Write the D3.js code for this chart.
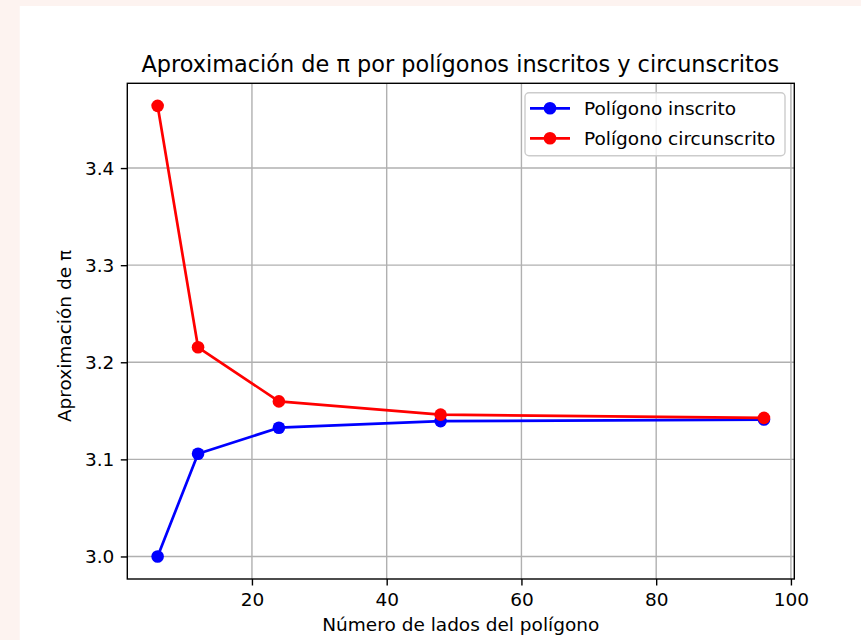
<!DOCTYPE html>
<html>
<head>
<meta charset="utf-8">
<script src="https://cdn.jsdelivr.net/npm/d3@7"></script>
<style>
  html, body { margin: 0; padding: 0; background: #fdf3f0; }
  svg { display: block; }
  text { font-family: "DejaVu Sans", sans-serif; fill: #000; }
</style>
</head>
<body>
<svg id="chart" width="861" height="640"></svg>
<script>
const lados = [6, 12, 24, 48, 96];
const inscrito = [3.0000, 3.1058, 3.1326, 3.1394, 3.1410];
const circunscrito = [3.4641, 3.2154, 3.1597, 3.1461, 3.1427];
const xTicks = [20, 40, 60, 80, 100];
const yTicks = [3.0, 3.1, 3.2, 3.3, 3.4];
const seriesNames = ["Polígono inscrito", "Polígono circunscrito"];
const seriesColors = ["#0000ff", "#ff0000"];

const svg = d3.select("#chart");
// figure background
svg.append("rect").attr("x", 19.7).attr("y", 6).attr("width", 861).attr("height", 650).attr("fill", "#fff");

const L = 127.3, R = 794.3, T = 83.3, B = 579;
const allY = inscrito.concat(circunscrito);
const xmin = d3.min(lados), xmax = d3.max(lados);
const ymin = d3.min(allY), ymax = d3.max(allY);
const xm = (xmax - xmin) * 0.05, ym = (ymax - ymin) * 0.05;
const x = d3.scaleLinear().domain([xmin - xm, xmax + xm]).range([L, R]);
const y = d3.scaleLinear().domain([ymin - ym, ymax + ym]).range([B, T]);

const fs = 18.5;
// grid
const grid = svg.append("g");
xTicks.forEach(t => grid.append("line").attr("x1", x(t)).attr("x2", x(t)).attr("y1", T).attr("y2", B)
  .attr("stroke", "#b0b0b0").attr("stroke-width", 1.4));
yTicks.forEach(t => grid.append("line").attr("x1", L).attr("x2", R).attr("y1", y(t)).attr("y2", y(t))
  .attr("stroke", "#b0b0b0").attr("stroke-width", 1.4));

// axes
const xAxis = d3.axisBottom(x).tickValues(xTicks).tickFormat(d3.format("d")).tickSize(6.5).tickPadding(6.5);
const yAxis = d3.axisLeft(y).tickValues(yTicks).tickFormat(d3.format(".1f")).tickSize(6.5).tickPadding(6.5);
const gx = svg.append("g").attr("transform", `translate(0,${B})`).call(xAxis);
const gy = svg.append("g").attr("transform", `translate(${L},0)`).call(yAxis);
[gx, gy].forEach(g => {
  g.select(".domain").remove();
  g.selectAll(".tick line").attr("stroke", "#000").attr("stroke-width", 1.4);
  g.selectAll(".tick text").attr("font-family", "DejaVu Sans").attr("font-size", fs).attr("fill", "#000");
});
gx.selectAll(".tick text").attr("dy", null).attr("y", 27);
gy.selectAll(".tick text").attr("dy", "0.35em");

// frame
svg.append("rect").attr("x", L).attr("y", T).attr("width", R - L).attr("height", B - T)
  .attr("fill", "none").attr("stroke", "#000").attr("stroke-width", 1.4);

// series
const series = [inscrito, circunscrito];
const line = d3.line().x((d, i) => x(lados[i])).y(d => y(d));
series.forEach((vals, k) => {
  const g = svg.append("g");
  g.append("path").datum(vals).attr("d", line).attr("fill", "none")
    .attr("stroke", seriesColors[k]).attr("stroke-width", 2.7).attr("stroke-linejoin", "round");
  g.selectAll("circle").data(vals).join("circle")
    .attr("cx", (d, i) => x(lados[i])).attr("cy", d => y(d)).attr("r", 6.3)
    .attr("fill", seriesColors[k]);
});

// title and labels
svg.append("text").attr("x", (L + R) / 2 - 0.5).attr("y", 72).attr("text-anchor", "middle")
  .attr("font-size", 22.4).text("Aproximación de π por polígonos inscritos y circunscritos");
svg.append("text").attr("x", (L + R) / 2).attr("y", 631).attr("text-anchor", "middle")
  .attr("font-size", fs).text("Número de lados del polígono");
svg.append("text").attr("transform", "translate(70.5,336) rotate(-90)").attr("text-anchor", "middle")
  .attr("font-size", fs).text("Aproximación de π");

// legend
const lg = svg.append("g");
lg.append("rect").attr("x", 525).attr("y", 92.7).attr("width", 260).attr("height", 63).attr("rx", 4)
  .attr("fill", "#fff").attr("fill-opacity", 0.8).attr("stroke", "#cccccc").attr("stroke-width", 1.4);
seriesNames.forEach((name, k) => {
  const ry = 108.3 + k * 30;
  lg.append("line").attr("x1", 530).attr("x2", 570).attr("y1", ry).attr("y2", ry)
    .attr("stroke", seriesColors[k]).attr("stroke-width", 2.7);
  lg.append("circle").attr("cx", 550).attr("cy", ry).attr("r", 6.3).attr("fill", seriesColors[k]);
  lg.append("text").attr("x", 584).attr("y", ry + 6.5).attr("font-size", fs).text(name);
});
</script>
</body>
</html>
